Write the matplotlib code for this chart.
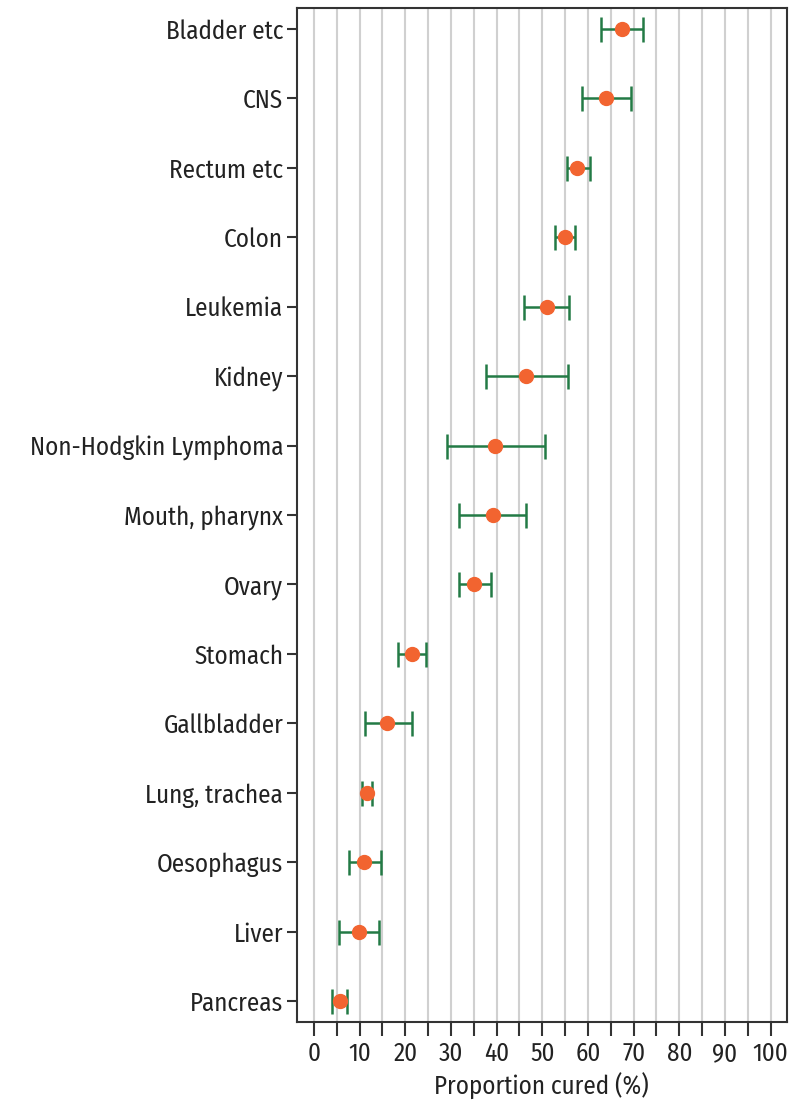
import matplotlib
matplotlib.use("Agg")
import matplotlib.pyplot as plt
import numpy as np

# Proportion cured by cancer site, with confidence limits (%)
sites = ["Bladder etc", "CNS", "Rectum etc", "Colon", "Leukemia", "Kidney",
         "Non-Hodgkin Lymphoma", "Mouth, pharynx", "Ovary", "Stomach",
         "Gallbladder", "Lung, trachea", "Oesophagus", "Liver", "Pancreas"]
cured = [67.4, 63.9, 57.6, 55.0, 51.0, 46.4, 39.7, 39.1, 35.0, 21.4,
         16.1, 11.7, 11.0, 9.9, 5.7]
lower = [62.8, 58.7, 55.4, 52.8, 46.0, 37.7, 29.1, 31.7, 31.7, 18.3,
         11.2, 10.6, 7.7, 5.5, 4.0]
upper = [72.0, 69.4, 60.4, 57.1, 55.8, 55.6, 50.6, 46.4, 38.8, 24.5,
         21.5, 12.8, 14.7, 14.3, 7.3]

plt.rcParams["font.family"] = ["Fira Sans Condensed", "DejaVu Sans"]

fig = plt.figure(figsize=(7.91, 11.06), dpi=100)
ax = fig.add_axes([0.3755, 0.076, 0.619, 0.9168])

y = np.arange(len(sites))[::-1]
cured_a = np.array(cured)
err = [cured_a - np.array(lower), np.array(upper) - cured_a]

ax.errorbar(cured, y, xerr=err, fmt="none", ecolor="#237a45",
            elinewidth=1.8, capsize=9, capthick=1.8, zorder=3)
ax.plot(cured, y, "o", color="#f26430", markersize=10, zorder=4)

ax.set_xlim(-3.7, 103.5)
ax.set_ylim(-0.3, len(sites) - 0.7)
ax.set_xticks(np.arange(0, 101, 5))
ax.set_xticklabels([str(v) if v % 10 == 0 else "" for v in range(0, 101, 5)])
ax.set_yticks(y)
ax.set_yticklabels(sites)

ax.grid(axis="x", color="#d0d0d0", linewidth=1.5)
ax.set_axisbelow(True)
for s in ax.spines.values():
    s.set_color("#333333")
    s.set_linewidth(1.5)
ax.tick_params(axis="x", length=10, width=1.5, color="#333333", labelsize=18,
               labelcolor="#222222", pad=4)
ax.tick_params(axis="y", length=7, width=1.5, color="#333333", labelsize=18,
               labelcolor="#222222", pad=3)
ax.set_xlabel("Proportion cured (%)", fontsize=18, color="#222222", labelpad=5)

fig.savefig("out.png", dpi=100)
